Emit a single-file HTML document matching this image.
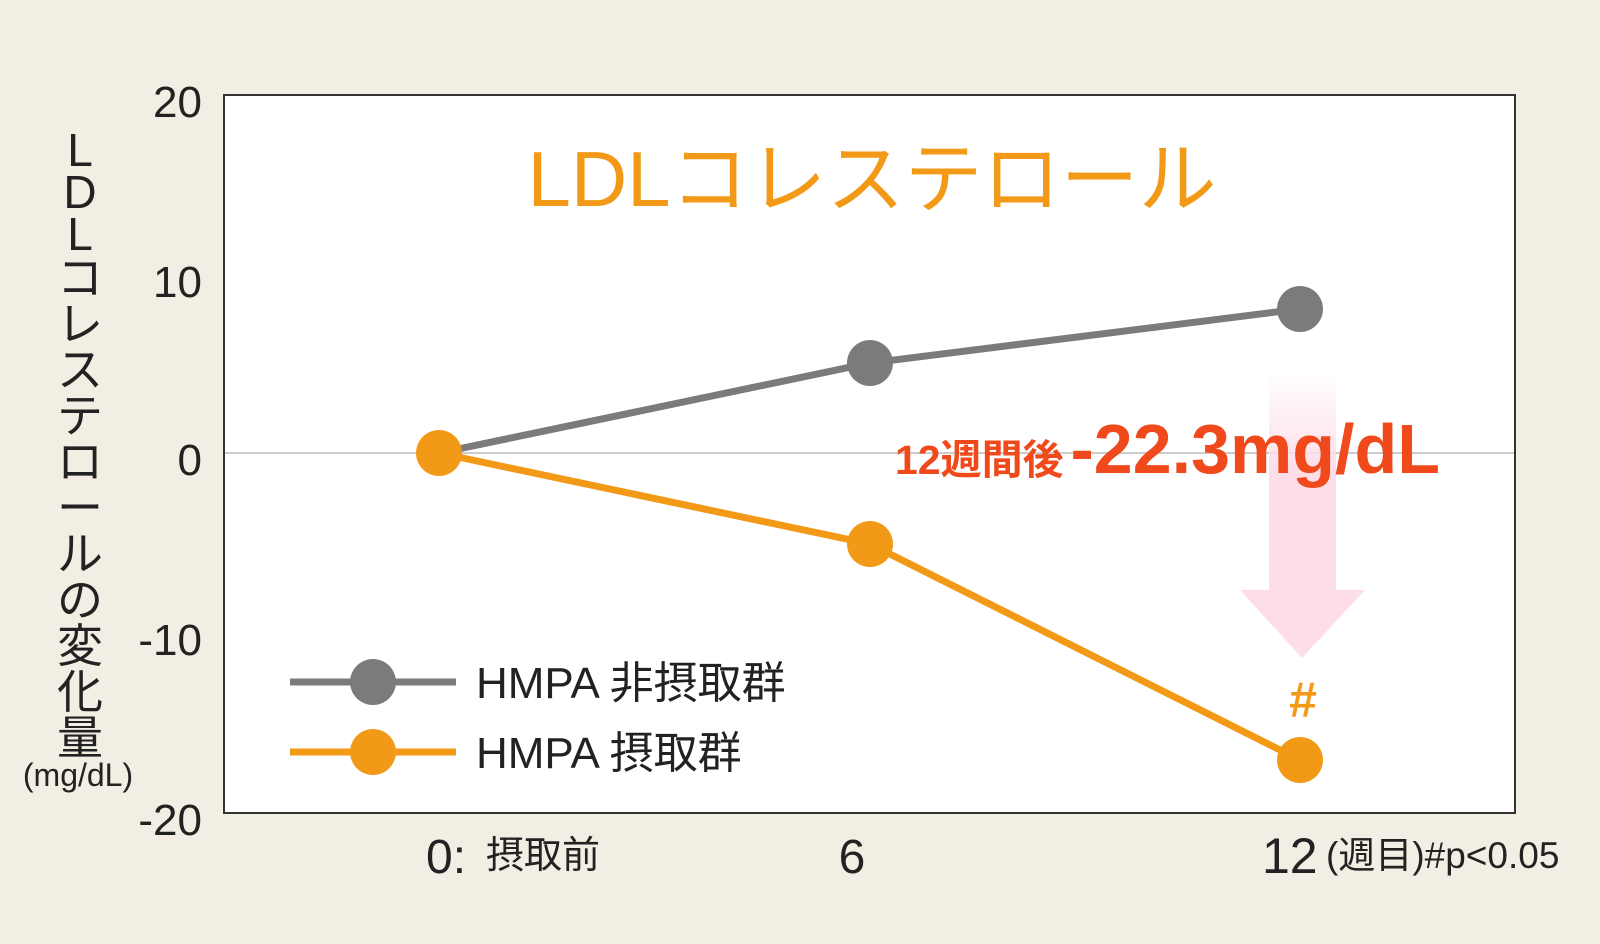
<!DOCTYPE html>
<html><head><meta charset="utf-8"><style>
html,body{margin:0;padding:0;background:#f3eee3;}
svg{display:block;}
text{font-family:"Liberation Sans","Noto Sans CJK JP",sans-serif;}
</style></head><body>
<svg width="1600" height="944" viewBox="0 0 1600 944" xmlns="http://www.w3.org/2000/svg">
<defs>
<linearGradient id="ag" x1="0" y1="0" x2="0" y2="1">
<stop offset="0" stop-color="#fddde8" stop-opacity="0"/>
<stop offset="0.35" stop-color="#fddde8" stop-opacity="1"/>
<stop offset="1" stop-color="#fddde8"/>
</linearGradient>
</defs>
<rect x="0" y="0" width="1600" height="944" fill="#f3eee3"/>
<rect x="224" y="95" width="1291" height="718" fill="#fff" stroke="#333" stroke-width="2"/>
<line x1="225" y1="453" x2="1514" y2="453" stroke="#ccc" stroke-width="2"/>
<text x="872" y="206" font-size="78" fill="#f29a17" text-anchor="middle">LDLコレステロール</text>
<path d="M1269 372 H1336 V590 H1365 L1302 658 L1240 590 H1269 Z" fill="url(#ag)"/>
<polyline points="439,453 870,363 1300,309" fill="none" stroke="#7b7b7b" stroke-width="7"/>
<polyline points="439,453 870,544 1300,760" fill="none" stroke="#f29a17" stroke-width="7"/>
<circle cx="870" cy="363" r="23" fill="#7b7b7b"/>
<circle cx="1300" cy="309" r="23" fill="#7b7b7b"/>
<circle cx="870" cy="544" r="23" fill="#f29a17"/>
<circle cx="1300" cy="760" r="23" fill="#f29a17"/>
<circle cx="439" cy="453" r="23" fill="#f29a17"/>
<text x="1303" y="717" font-size="50" font-weight="bold" fill="#f29a17" text-anchor="middle">#</text>
<text x="895" y="474" font-size="41" font-weight="bold" fill="#f04a1c">12週間後</text>
<text x="1440" y="473" font-size="70" font-weight="bold" fill="#f04a1c" text-anchor="end">-22.3mg/dL</text>
<line x1="290" y1="682" x2="456" y2="682" stroke="#7b7b7b" stroke-width="7"/>
<circle cx="373" cy="682" r="23" fill="#7b7b7b"/>
<text x="476" y="698" font-size="44" fill="#222">HMPA 非摂取群</text>
<line x1="290" y1="752" x2="456" y2="752" stroke="#f29a17" stroke-width="7"/>
<circle cx="373" cy="752" r="23" fill="#f29a17"/>
<text x="476" y="768" font-size="44" fill="#222">HMPA 摂取群</text>
<g font-size="44" fill="#222" text-anchor="end">
<text x="202" y="117">20</text>
<text x="202" y="297">10</text>
<text x="202" y="475">0</text>
<text x="202" y="655">-10</text>
<text x="202" y="835">-20</text>
</g>
<text x="426" y="873" font-size="48" fill="#222">0:</text>
<text x="486" y="868" font-size="38" fill="#222">摂取前</text>
<text x="852" y="873" font-size="48" fill="#222" text-anchor="middle">6</text>
<text x="1262" y="873" font-size="50" fill="#222">12</text>
<text x="1326" y="868" font-size="37" fill="#222">(週目)#p&lt;0.05</text>
<g font-size="46" fill="#222" text-anchor="middle">
<text x="80" y="166">L</text>
<text x="80" y="208">D</text>
<text x="80" y="250">L</text>
<text x="80" y="294">コ</text>
<text x="80" y="340">レ</text>
<text x="80" y="386">ス</text>
<text x="80" y="432">テ</text>
<text x="80" y="478">ロ</text>
<text x="80" y="524">ー</text>
<text x="80" y="570">ル</text>
<text x="80" y="616">の</text>
<text x="80" y="662">変</text>
<text x="80" y="708">化</text>
<text x="80" y="754">量</text>
</g>
<text x="78" y="786" font-size="32" fill="#222" text-anchor="middle">(mg/dL)</text>
</svg>
</body></html>
